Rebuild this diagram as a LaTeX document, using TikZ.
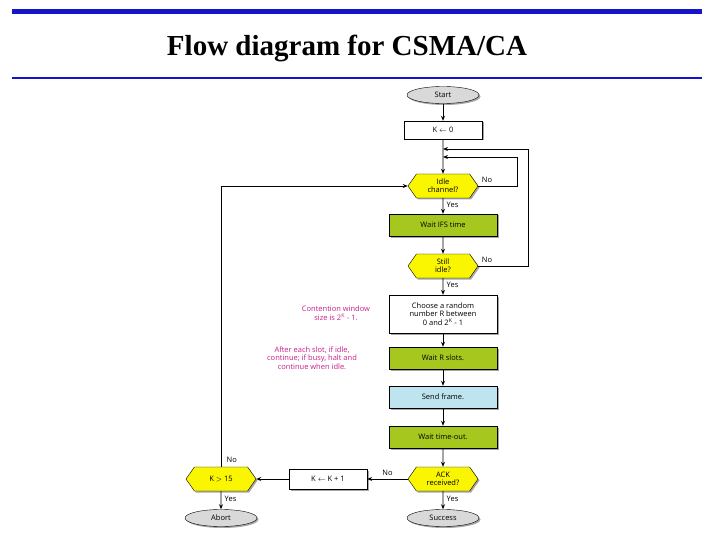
\documentclass[tikz,border=0pt]{standalone}
\usepackage{fontspec}
\setmainfont{Liberation Serif}
\setsansfont{Open Sans}
\usetikzlibrary{shapes.geometric,shapes.symbols,shadows,arrows.meta}
\definecolor{titleblue}{RGB}{20,20,200}
\definecolor{boxgreen}{RGB}{166,200,30}
\definecolor{boxblue}{RGB}{190,228,240}
\definecolor{hexyellow}{RGB}{250,245,0}
\definecolor{notemag}{RGB}{200,30,140}
\begin{document}
\begin{tikzpicture}[x=1pt,y=-1pt,font=\sffamily\fontsize{7.5}{8.5}\selectfont,
                    shadowed/.style={drop shadow={shadow xshift=1.5pt,shadow yshift=-1.5pt,fill=gray!70,opacity=1}},
                    action/.style={draw,shadowed,fill=white,minimum width=78pt,minimum height=18pt,inner sep=1pt,align=center},
                    wide/.style={action,minimum width=108pt,minimum height=22pt},
                    test/.style={draw,shadowed,signal,signal to=east and west,signal pointer angle=110,
                                 fill=hexyellow,minimum width=70pt,minimum height=24pt,inner sep=0pt,align=center,
                                 font=\sffamily\fontsize{7.5}{8}\selectfont},
                    term/.style={draw,ellipse,shadowed,fill=gray!30,minimum width=72pt,minimum height=17pt,inner sep=0pt},
                    arrow/.style={-{Stealth[length=5pt,width=4pt]},thick},
                    note/.style={text=notemag,align=center,font=\sffamily\fontsize{7.5}{8.5}\selectfont}
                    ]
        \useasboundingbox (0,0) rectangle (720,540);
        % title
        \draw[titleblue,line width=5pt] (12,12) -- (702,12);
        \draw[titleblue,line width=2pt] (12,78) -- (702,78);
        \node[font=\bfseries\fontsize{29}{32}\selectfont] (title) at (347,48) {Flow diagram for CSMA/CA};
        % main column
        \node[term] (start) at (443,95) {Start};
        \node[action] (k0) at (443,130) {K $\leftarrow$ 0};
        \node[test] (idle) at (443,186) {Idle\\channel?};
        \node[wide,fill=boxgreen] (ifs) at (443,225) {Wait IFS time};
        \node[test] (still) at (443,266) {Still\\idle?};
        \node[wide,minimum height=38pt] (choose) at (443,314) {Choose a random\\number R between\\0 and 2\textsuperscript{K} - 1};
        \node[wide,fill=boxgreen] (slots) at (443,358) {Wait R slots.};
        \node[wide,fill=boxblue] (send) at (443,397) {Send frame.};
        \node[wide,fill=boxgreen] (timeout) at (443,437) {Wait time-out.};
        \node[test] (ack) at (443,479) {ACK\\received?};
        \node[term] (success) at (443,518) {Success};
        % retry column
        \node[action,minimum height=20pt] (inc) at (328,479) {K $\leftarrow$ K + 1};
        \node[test] (limit) at (221,479) {K $>$ 15};
        \node[term] (abort) at (221,518) {Abort};
        \coordinate (m1) at (443,149);
        \coordinate (m2) at (443,157);
        % notes
        \node[note] (cw) at (336,313) {Contention window\\size is 2\textsuperscript{K} - 1.};
        \node[note] (slotnote) at (312,358) {After each slot, if idle,\\continue; if busy, halt and\\continue when idle.};
        % connectors
        \draw[arrow] (start) -- (k0);
        \draw[arrow] (k0) -- (idle);
        \draw[arrow] (idle) -- node[pos=0.4,right] {Yes} (ifs);
        \draw[arrow] (ifs) -- (still);
        \draw[arrow] (still) -- node[pos=0.4,right] {Yes} (choose);
        \draw[arrow] (choose) -- (slots);
        \draw[arrow] (slots) -- (send);
        \draw[arrow] (send) -- (timeout);
        \draw[arrow] (timeout) -- (ack);
        \draw[arrow] (ack) -- node[pos=0.4,right] {Yes} (success);
        \draw[arrow] (limit) -- node[pos=0.4,right] {Yes} (abort);
        \draw[arrow] (ack.west) -- node[above,pos=0.5] {No} (inc);
        \draw[arrow] (inc) -- (limit.east);
        \draw[arrow] (idle.east) node[above right] {No} -- (517,186) -- (517,157) -- (m2);
        \draw[arrow] (still.east) node[above right] {No} -- (528,266) -- (528,149) -- (m1);
        \draw[arrow] (limit.north) node[above right,xshift=2pt] {No} -- (221,186) -- (idle.west);
    \end{tikzpicture}
\end{document}
